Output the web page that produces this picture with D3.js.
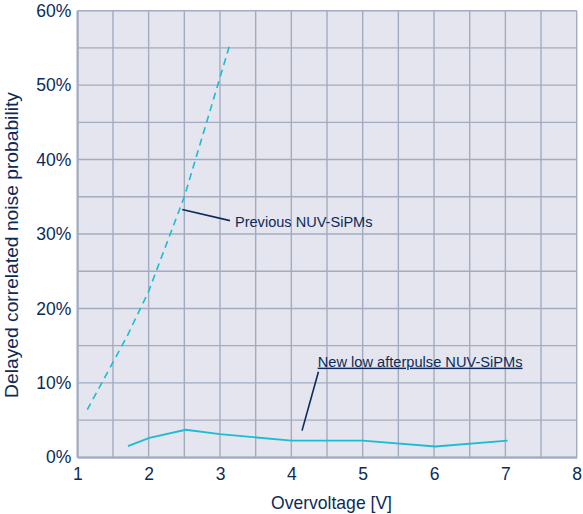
<!DOCTYPE html>
<html><head><meta charset="utf-8">
<script src="https://cdn.jsdelivr.net/npm/d3@7"></script>
<style>
html,body{margin:0;padding:0;background:#fff;}
svg{display:block;font-family:"Liberation Sans",Arial,sans-serif;}
</style></head>
<body>
<script>
// ---- data ----
const xTicks = [1,2,3,4,5,6,7,8];
const yTicks = [0,10,20,30,40,50,60];
const prevX = [1.14, 1.7, 2.0, 2.5, 3.13];
const prevY = [6.4, 16.3, 22.3, 35.0, 55.2];
const newX = [1.71, 2.01, 2.52, 3.0, 4.0, 5.0, 6.02, 7.03];
const newY = [1.5, 2.6, 3.7, 3.1, 2.25, 2.25, 1.45, 2.25];
const prevLabel = "Previous NUV-SiPMs";
const newLabel = "New low afterpulse NUV-SiPMs";

const W = 583, H = 514;
const navy = "#0d2b58", cyan = "#1bbdd2", gridC = "#a2acc0";
const x = d3.scaleLinear().domain([1,8]).range([77.3,576.7]);
const y = d3.scaleLinear().domain([0,60]).range([457.3,10.7]);

const svg = d3.select("body").append("svg").attr("width",W).attr("height",H);

svg.append("rect").attr("x",x(1)).attr("y",y(60)).attr("width",x(8)-x(1)).attr("height",y(0)-y(60)).attr("fill","#e4e5ee");

const g = svg.append("g");
d3.range(1,8.01,0.5).forEach(v=>{
  g.append("line").attr("x1",x(v)).attr("x2",x(v)).attr("y1",y(0)).attr("y2",y(60)).attr("stroke",gridC).attr("stroke-width",1.4);
});
d3.range(0,60.01,5).forEach(v=>{
  g.append("line").attr("x1",x(1)).attr("x2",x(8)).attr("y1",y(v)).attr("y2",y(v)).attr("stroke",gridC).attr("stroke-width",1.4);
});

function fitWidth(sel, target){
  const fs = +sel.attr("font-size");
  const w = sel.node().getComputedTextLength();
  if (w > 0) sel.attr("font-size", fs*target/w);
}

const xAxis = d3.axisBottom(x).tickValues(xTicks).tickSize(0).tickPadding(10).tickFormat(d3.format("d"));
const xg = svg.append("g").attr("transform",`translate(0,${y(0)})`).call(xAxis);
xg.select(".domain").attr("stroke",gridC).attr("stroke-width",2);
xg.selectAll("text").attr("fill",navy).attr("font-size",17.5).attr("font-family","Liberation Sans, Arial, sans-serif");

const yAxis = d3.axisLeft(y).tickValues(yTicks).tickSize(0).tickPadding(6).tickFormat(d=>d+"%");
const yg = svg.append("g").attr("transform",`translate(${x(1)},0)`).call(yAxis);
yg.select(".domain").attr("stroke",gridC).attr("stroke-width",2);
yg.selectAll("text").attr("fill",navy).attr("font-size",17.5).attr("font-family","Liberation Sans, Arial, sans-serif");

const xt = svg.append("text").attr("x",331.5).attr("y",509).attr("text-anchor","middle")
  .attr("fill",navy).attr("font-size",17).text("Overvoltage [V]");
fitWidth(xt,121);
const yt = svg.append("text").attr("transform",`translate(18,245) rotate(-90)`).attr("text-anchor","middle")
  .attr("fill",navy).attr("font-size",17).text("Delayed correlated noise probability");
fitWidth(yt,306);

const line = d3.line().x(d=>x(d[0])).y(d=>y(d[1]));
svg.append("path").datum(d3.zip(prevX,prevY)).attr("d",line).attr("fill","none")
  .attr("stroke",cyan).attr("stroke-width",1.6).attr("stroke-dasharray","7,5");
svg.append("path").datum(d3.zip(newX,newY)).attr("d",line).attr("fill","none")
  .attr("stroke",cyan).attr("stroke-width",1.8);

svg.append("line").attr("x1",x(2.47)).attr("y1",y(33.3)).attr("x2",x(3.14)).attr("y2",y(31.8))
  .attr("stroke",navy).attr("stroke-width",1.6);
const pl = svg.append("text").attr("x",x(3.21)).attr("y",y(31.0)).attr("fill",navy).attr("font-size",14.3).text(prevLabel);
fitWidth(pl,137.7);

svg.append("line").attr("x1",x(4.38)).attr("y1",y(11.5)).attr("x2",x(4.15)).attr("y2",y(3.58))
  .attr("stroke",navy).attr("stroke-width",1.6);
const nl = svg.append("text").attr("x",x(4.37)).attr("y",y(12.18)).attr("fill",navy).attr("font-size",14.3)
  .attr("text-decoration","underline").text(newLabel);
fitWidth(nl,205);
</script>
</body></html>
